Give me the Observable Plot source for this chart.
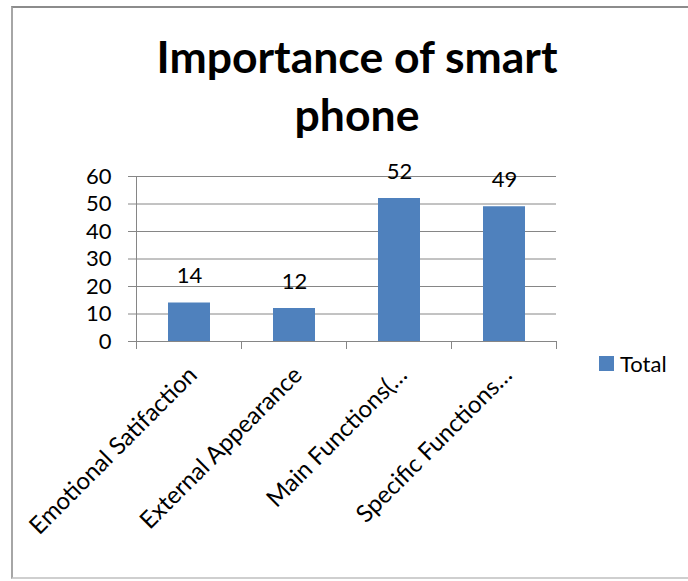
<!DOCTYPE html>
<html>
<head>
<meta charset="utf-8">
<script src="https://cdn.jsdelivr.net/npm/d3@7"></script>
<script src="https://cdn.jsdelivr.net/npm/@observablehq/plot@0.6"></script>
<style>
  html, body { margin: 0; padding: 0; background: #fff; width: 688px; height: 581px; overflow: hidden; }
  #wrap { position: relative; width: 688px; height: 581px; font-family: Lato, "Open Sans", sans-serif; }
  #frame { position: absolute; left: 11px; top: 6px; width: 690px; height: 573px;
           border-top: 2px solid #8c8c8c; border-left: 2px solid #a6a6a6; border-bottom: 2px solid #cfcfcf; box-sizing: border-box; }
  #title { position: absolute; left: 0; width: 714px; top: 27px; text-align: center;
           font-family: Lato, sans-serif; font-weight: bold; font-size: 44.5px; line-height: 58px; color: #000; }
  #chart { position: absolute; left: 0; top: 0; }
  #chart svg line, #chart svg path { stroke: #868686; stroke-opacity: 1; }
  #legend { position: absolute; left: 599px; top: 350px; display: flex; align-items: center;
            font-family: Lato, sans-serif; font-size: 22px; color: #000; }
  #legend .sw { width: 15px; height: 15px; margin-right: 6px; }
</style>
</head>
<body>
<div id="wrap">
  <div id="frame"></div>
  <div id="chart"></div>
  <div id="title"></div>
  <div id="legend"></div>
</div>
<script>
// ---- data ----
const titleLines = ["Importance of smart", "phone"];
const categories = ["Emotional Satifaction", "External Appearance", "Main Functions(…", "Specific Functions…"];
const totals = [14, 12, 52, 49];
const yTicks = [0, 10, 20, 30, 40, 50, 60];
const seriesName = "Total";
const barColor = "#4F81BD";

const data = categories.map((c, i) => ({cat: c, val: totals[i]}));

document.getElementById("title").innerHTML = titleLines.join("<br>");
const lg = document.getElementById("legend");
lg.innerHTML = `<div class="sw" style="background:${barColor}"></div><span>${seriesName}</span>`;

const plot = Plot.plot({
  width: 688,
  height: 581,
  marginTop: 176,
  marginBottom: 240,
  marginLeft: 136,
  marginRight: 132,
  style: {background: "transparent", fontFamily: "Lato, sans-serif", fontSize: "22px", color: "#000", overflow: "visible"},
  x: {domain: categories, paddingInner: 0.6, paddingOuter: 0.3, axis: null},
  y: {domain: [0, 60], ticks: yTicks, grid: true, line: true, tickSize: 8, tickPadding: 17, label: null},
  marks: [
    Plot.barY(data, {x: "cat", y: "val", fill: barColor}),
    Plot.ruleY([0]),
    Plot.text(data, {x: "cat", y: "val", text: d => String(d.val), dy: -27, fill: "#000", fontSize: 22}),
    Plot.text(data, {x: "cat", text: "cat", frameAnchor: "bottom", rotate: -45, textAnchor: "end", dx: 9, dy: 35, fill: "#000", fontSize: 24})
  ]
});

// category-boundary tick marks on the x axis, from the band scale
const sx = plot.scale("x");
const sy = plot.scale("y");
const n = categories.length;
const step = sx.step ?? (sx.range[1] - sx.range[0]) / (n - sx.paddingInner + 2 * sx.paddingOuter);
const bw = sx.bandwidth;
const bounds = categories.map(c => sx.apply(c) - (step - bw) / 2);
bounds.push(sx.apply(categories[n - 1]) + bw + (step - bw) / 2);
const y0 = sy.apply(0);
d3.select(plot).append("g").attr("aria-label", "x-boundary-ticks")
  .selectAll("line").data(bounds).join("line")
  .attr("x1", d => d).attr("x2", d => d)
  .attr("y1", y0).attr("y2", y0 + 8)
  .attr("stroke", "#868686");

document.getElementById("chart").appendChild(plot);
</script>
</body>
</html>
